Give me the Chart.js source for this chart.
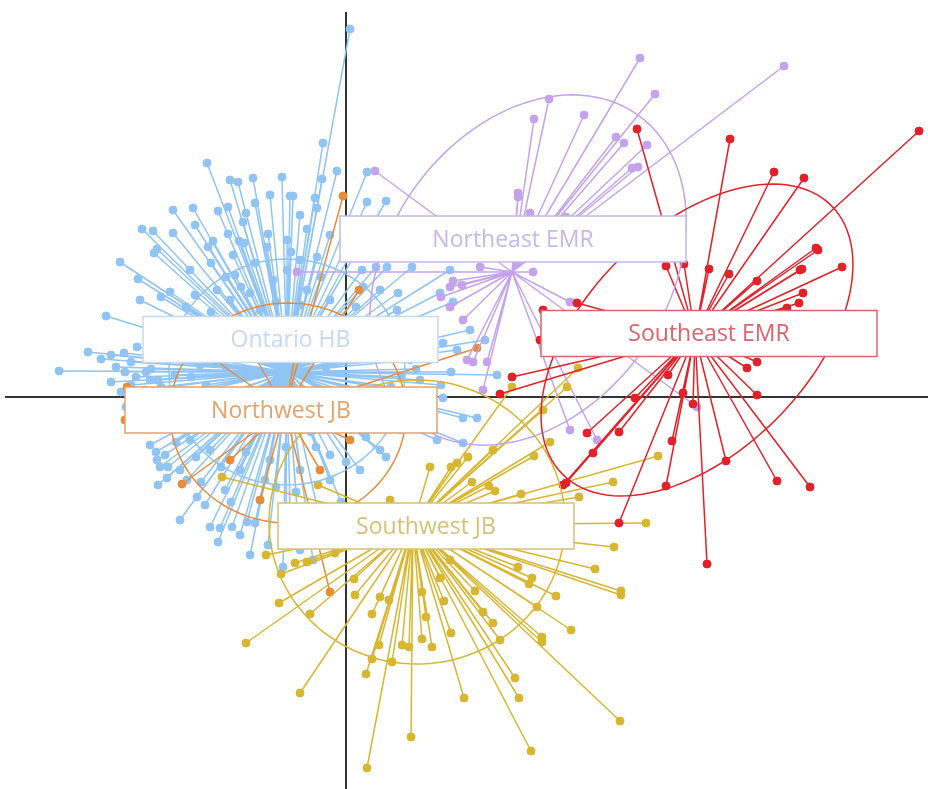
<!DOCTYPE html>
<html>
<head>
<meta charset="utf-8">
<script src="https://cdn.jsdelivr.net/npm/chart.js@4"></script>
<style>
  html, body { margin: 0; padding: 0; background: #ffffff; }
  canvas { display: block; }
</style>
</head>
<body>
<canvas id="spider" width="928" height="789"></canvas>
<script>
// Group names
const GROUPS = ["Ontario HB", "Northwest JB", "Northeast EMR", "Southwest JB", "Southeast EMR"];

// Group centroids (ordination scores)
const CENTROIDS = [[-0.59, 0.25], [-0.61, -0.13], [1.66, 1.25], [0.67, -1.28], [3.49, 0.62]];

// Site scores per group
const ontarioHB = [
  [0.04, 3.68], [-0.23, 2.54], [-0.09, 2.26], [-1.39, 2.34], [-1.08, 2.15], [-0.93, 2.19], [-0.64, 2.20],
  [-0.56, 2.01], [-0.53, 2.01], [-0.24, 2.18], [-1.73, 1.87], [-1.53, 1.89], [-1.28, 1.86], [-1.18, 1.90],
  [-1.00, 1.84], [-0.91, 1.94], [-1.03, 1.75], [-2.04, 1.68], [-1.93, 1.66], [-1.73, 1.64], [-1.33, 1.56],
  [-1.18, 1.63], [-1.07, 1.56], [-0.78, 1.63], [-0.59, 1.57], [-0.39, 1.68], [-0.29, 1.89], [-0.31, 1.99],
  [-1.89, 1.48], [-1.92, 1.44], [-1.38, 1.50], [-1.13, 1.42], [-1.02, 1.54], [-0.79, 1.50], [-2.26, 1.35],
  [-2.08, 1.18], [-1.76, 1.05], [-1.35, 1.34], [-0.91, 1.34], [-0.59, 1.27], [-2.40, 0.81], [-2.58, 0.45],
  [-2.22, 0.44], [-2.09, 0.50], [-2.87, 0.26], [-1.51, 1.02], [-1.29, 1.07], [-0.96, 1.04], [-0.39, 1.07],
  [-0.29, 1.40], [-0.73, 1.17], [0.21, 1.95], [0.40, 1.96], [0.21, 2.25], [0.41, 1.30], [0.66, 1.30],
  [0.52, 1.04], [1.07, 0.95], [1.04, 1.27], [0.94, 1.04], [0.51, 0.87], [0.97, 0.54], [1.11, 0.47],
  [1.51, 0.22], [0.97, -0.01], [1.17, -0.21], [1.31, -0.21], [0.91, -0.43], [1.17, -0.46], [0.16, 1.27],
  [0.17, 1.10], [-1.89, -0.63], [-1.86, -0.70], [-1.78, -0.70], [-1.88, -0.88], [-1.79, -0.81], [-1.59, -0.83],
  [-1.49, -1.00], [-1.36, -1.30], [-1.26, -1.31], [-1.14, -1.30], [-1.06, -1.38], [-1.28, -1.45], [-0.99, -1.25],
  [-0.91, -1.26], [-0.78, -1.48], [-0.63, -1.70], [-0.46, -1.53], [-0.33, -1.63], [-1.66, -0.73], [-1.96, 0.17],
  [-1.88, 0.17], [-1.76, 0.77], [-1.61, 0.67], [-1.96, 0.37], [-1.71, 0.22], [-1.46, 0.32], [-1.16, 0.97],
  [-0.86, 0.87], [-0.46, 0.92], [-0.16, 0.97], [0.04, 0.77], [0.34, 0.57], [0.64, 0.37], [0.74, 0.17],
  [0.64, -0.03], [0.54, -0.33], [0.34, -0.53], [0.14, -0.73], [-0.16, -0.83], [-0.46, -0.73], [-0.76, -0.63],
  [-1.06, -0.73], [-1.36, -0.53], [-1.56, -0.43], [-1.96, -0.48], [-1.81, -0.58], [-1.21, -0.93], [-0.86, -1.03],
  [-0.56, -1.13], [-0.26, -1.23], [-1.16, 2.17], [-0.76, 2.02], [-0.46, 1.82], [-0.16, 1.62], [0.04, 1.42],
  [-1.56, 1.27], [-2.06, 0.97], [-2.21, 0.25], [-2.01, 0.07], [-1.51, 1.72], [-1.86, 0.67], [0.34, 1.07],
  [0.74, 0.77], [1.24, 0.67], [1.39, 0.57], [0.84, -0.23], [-1.66, -1.23], [-1.41, -1.08], [-0.96, -1.58],
  [-0.81, -0.83], [-0.16, -0.58], [-1.11, 1.22], [-0.46, 1.37], [-2.30, 0.30], [-2.45, 0.38], [-2.15, 0.12],
  [-1.30, -0.20], [-1.10, 0.45], [-0.20, 0.30], [0.25, 0.05], [-0.35, -0.35], [-2.05, -0.30], [-1.70, -0.15],
  [-2.35, 0.15], [-2.10, 0.20], [-1.85, 0.10], [-1.65, 0.05], [-2.25, 0.05], [-1.95, 0.28], [-1.55, 0.20],
  [-1.40, 0.12], [0.55, 0.20], [0.80, 0.05], [0.95, 0.12], [0.70, 0.28], [1.05, 0.25], [0.45, 0.10],
  [-1.70, -0.45], [-1.50, -0.60], [-1.25, -0.70], [-1.00, -0.55], [-0.70, -0.90], [-0.50, -0.95], [-0.30, -0.50],
  [0.00, -0.65], [0.20, -0.40], [0.40, -0.60], [-1.90, -0.55], [-1.45, -0.85], [-1.15, -1.05], [-0.60, -1.25],
  [-0.05, -1.05], [-1.60, 0.90], [-1.35, 0.85], [-1.05, 1.10], [-0.70, 0.95], [-0.25, 1.20], [0.10, 0.90],
  [0.30, 1.30], [-1.85, 1.00], [-0.55, 1.45], [-1.20, 1.20], [0.55, 0.65], [-2.15, 0.35], [-2.00, 0.25],
  [-2.35, 0.42], [-1.75, 0.40], [-1.20, 0.30], [-0.90, 0.55], [-0.30, 0.55], [0.15, 0.40], [-0.10, -0.20],
  [-0.85, -0.30], [-1.55, -0.25], [-2.20, -0.10], [0.35, -0.15], [-0.60, -0.50], [-1.30, 0.60]
];
const northwestJB = [
  [-0.03, 2.01], [0.13, 1.07], [1.31, 0.49], [-2.19, 0.10], [-2.21, -0.23], [-1.64, -0.87], [-0.16, -1.95],
  [-1.06, 0.67], [-0.46, 0.67], [-1.16, -0.63], [-0.26, -0.73], [-0.86, -1.03], [0.04, -0.43], [-1.31, 0.37]
];
const northeastEMR = [
  [2.94, 3.39], [4.38, 3.31], [2.03, 2.98], [1.88, 2.78], [2.38, 2.82], [3.09, 3.03], [2.78, 2.54],
  [3.01, 2.52], [2.86, 2.29], [2.92, 2.30], [1.72, 2.04], [1.72, 2.00], [1.84, 1.84], [0.29, 2.26],
  [1.34, 1.30], [1.87, 1.25], [1.07, 1.16], [1.04, 1.10], [1.16, 1.12], [1.04, 0.90], [1.17, 0.77],
  [1.21, 0.37], [1.27, 0.35], [1.41, 0.35], [1.37, 0.07], [2.24, -0.33], [2.51, -0.43], [3.51, -0.10],
  [2.24, 0.95], [-0.49, 1.25], [2.70, 2.60], [2.20, 1.80], [0.95, 1.00]
];
const southwestJB = [
  [3.12, -0.59], [2.67, -0.85], [2.33, -1.00], [1.75, -0.97], [1.88, -0.59], [2.04, -0.45], [1.22, -0.60],
  [1.11, -0.66], [1.05, -0.70], [1.47, -0.53], [1.26, -0.85], [1.43, -0.89], [1.49, -0.94], [3.00, -1.26],
  [2.68, -1.50], [2.49, -1.72], [2.75, -1.94], [2.75, -1.98], [1.86, -1.81], [1.83, -1.87], [1.72, -1.70],
  [2.10, -1.99], [1.91, -2.10], [2.25, -2.33], [1.96, -2.40], [1.96, -2.45], [2.74, -3.24], [1.54, -2.43],
  [1.47, -2.26], [1.37, -2.15], [1.29, -1.94], [1.69, -2.81], [1.73, -3.01], [1.18, -3.01], [1.05, -2.36],
  [0.98, -2.04], [0.94, -1.81], [0.86, -2.50], [0.76, -2.42], [0.80, -2.20], [0.76, -1.95], [0.63, -2.50],
  [0.56, -2.48], [0.33, -2.48], [0.43, -2.03], [0.34, -2.00], [0.26, -2.17], [0.26, -2.62], [0.46, -2.65],
  [0.20, -2.77], [0.65, -3.40], [0.21, -3.71], [1.85, -3.54], [-0.46, -2.96], [-1.00, -2.46], [-0.36, -2.17],
  [-0.67, -2.06], [0.09, -1.98], [0.08, -1.82], [-0.65, -1.77], [-0.80, -1.58], [-0.51, -1.66], [-0.39, -1.65],
  [-0.11, -1.56], [-1.24, -0.80], [-0.28, -0.88], [0.84, -0.70], [1.66, 0.10], [2.32, 0.29], [2.21, 0.10],
  [1.97, -0.13], [1.14, -1.23], [0.24, -1.43], [1.04, -1.63], [0.44, -1.03], [1.54, -1.33]
];
const southeastEMR = [
  [2.91, 2.68], [3.84, 2.58], [5.73, 2.66], [4.28, 2.25], [4.58, 2.19], [4.72, 1.47], [4.70, 1.49],
  [4.54, 1.27], [4.56, 1.28], [4.96, 1.30], [4.57, 1.04], [4.53, 0.94], [4.41, 0.89], [4.11, 1.16],
  [3.83, 1.23], [3.63, 1.28], [3.20, 1.31], [3.38, 1.33], [2.31, 0.94], [1.97, 0.87], [1.94, 0.57],
  [4.01, 0.29], [4.11, 0.35], [3.22, 0.22], [2.89, -0.01], [3.37, 0.04], [3.47, -0.07], [4.11, 0.02],
  [2.41, -0.36], [2.73, -0.35], [3.26, -0.44], [2.47, -0.56], [3.80, -0.64], [2.17, -0.88], [3.20, -0.89],
  [4.31, -0.84], [4.64, -0.90], [2.73, -1.26], [3.61, -1.67], [1.66, 0.20], [1.54, 0.03], [2.20, -0.86]
];
const SITES = [ontarioHB, northwestJB, northeastEMR, southwestJB, southeastEMR];

// Dispersion ellipses: centre x, centre y, semi-axis a, semi-axis b, rotation (deg)
const ELLIPSE_CX = [-0.59, -0.58, 1.82, 0.71, 3.51];
const ELLIPSE_CY = [0.25, -0.16, 1.27, -1.25, 0.57];
const ELLIPSE_A = [1.18, 1.18, 1.90, 1.48, 1.90];
const ELLIPSE_B = [1.13, 1.10, 1.40, 1.42, 1.12];
const ELLIPSE_ROT = [0, 0, 55, 0, 45];

// Label anchor positions
const LABEL_X = [-0.555, -0.65, 1.67, 0.80, 3.63];
const LABEL_Y = [0.575, -0.13, 1.58, -1.29, 0.635];

// Styles
const COLORS = ["rgb(143,196,245)", "rgb(232,140,55)", "rgb(196,162,238)", "rgb(216,182,48)", "rgb(228,32,40)"];
const TEXT_COLORS = ["rgb(196,218,242)", "rgb(226,163,108)", "rgb(198,184,234)", "rgb(214,193,118)", "rgb(221,98,108)"];
const BOX_WIDTHS = [295, 312, 346, 296, 336];
const DRAW_ORDER = [50, 40, 30, 20, 10];

function spokeData(hub, pts) {
  const out = [];
  pts.forEach(p => {
    out.push({x: hub[0], y: hub[1]}, {x: p[0], y: p[1]}, {x: null, y: null});
  });
  return out;
}

const datasets = [];
GROUPS.forEach((name, g) => {
  datasets.push({
    type: 'line',
    label: name + ' spokes',
    data: spokeData(CENTROIDS[g], SITES[g]),
    borderColor: COLORS[g],
    borderWidth: 1.5,
    pointRadius: 0,
    spanGaps: false,
    order: DRAW_ORDER[g] + 1
  });
  datasets.push({
    type: 'scatter',
    label: name,
    data: SITES[g].map(p => ({x: p[0], y: p[1]})),
    backgroundColor: COLORS[g],
    borderColor: COLORS[g],
    borderWidth: 1,
    pointRadius: 4,
    order: DRAW_ORDER[g]
  });
});

// zero axes, ellipses and group labels
const ordinationDecor = {
  id: 'ordinationDecor',
  beforeDatasetsDraw(chart) {
    const {ctx, chartArea, scales: {x, y}} = chart;
    ctx.save();
    ctx.strokeStyle = '#333333';
    ctx.lineWidth = 2;
    ctx.beginPath();
    ctx.moveTo(x.getPixelForValue(0), chartArea.top);
    ctx.lineTo(x.getPixelForValue(0), chartArea.bottom);
    ctx.moveTo(chartArea.left, y.getPixelForValue(0));
    ctx.lineTo(chartArea.right, y.getPixelForValue(0));
    ctx.stroke();
    ctx.restore();
  },
  afterDatasetsDraw(chart) {
    const {ctx, scales: {x, y}} = chart;
    ctx.save();
    // ellipses
    GROUPS.forEach((name, g) => {
      const rot = ELLIPSE_ROT[g] * Math.PI / 180;
      ctx.strokeStyle = COLORS[g];
      ctx.lineWidth = 1.5;
      ctx.beginPath();
      for (let k = 0; k <= 120; k++) {
        const t = k / 120 * 2 * Math.PI;
        const ex = ELLIPSE_A[g] * Math.cos(t), ey = ELLIPSE_B[g] * Math.sin(t);
        const px = x.getPixelForValue(ELLIPSE_CX[g] + ex * Math.cos(rot) - ey * Math.sin(rot));
        const py = y.getPixelForValue(ELLIPSE_CY[g] + ex * Math.sin(rot) + ey * Math.cos(rot));
        if (k === 0) ctx.moveTo(px, py); else ctx.lineTo(px, py);
      }
      ctx.stroke();
    });
    // labels
    ctx.font = '23px "Open Sans", "Noto Sans", sans-serif';
    ctx.textAlign = 'center';
    ctx.textBaseline = 'middle';
    GROUPS.forEach((name, g) => {
      const cx = x.getPixelForValue(LABEL_X[g]);
      const cy = y.getPixelForValue(LABEL_Y[g]);
      const w = BOX_WIDTHS[g], h = 46;
      ctx.fillStyle = '#ffffff';
      ctx.fillRect(cx - w / 2, cy - h / 2, w, h);
      ctx.strokeStyle = TEXT_COLORS[g];
      ctx.lineWidth = 1.5;
      ctx.strokeRect(cx - w / 2, cy - h / 2, w, h);
      ctx.fillStyle = TEXT_COLORS[g];
      ctx.fillText(name, cx, cy + 1);
    });
    ctx.restore();
  }
};

new Chart(document.getElementById('spider'), {
  type: 'scatter',
  data: { datasets: datasets },
  options: {
    responsive: false,
    animation: false,
    layout: { autoPadding: false, padding: { left: 5, top: 12, right: 0, bottom: 0 } },
    plugins: { legend: { display: false }, tooltip: { enabled: false } },
    scales: {
      x: { type: 'linear', min: -3.41, max: 5.82, display: false },
      y: { type: 'linear', min: -3.92, max: 3.85, display: false }
    }
  },
  plugins: [ordinationDecor]
});
</script>
</body>
</html>
